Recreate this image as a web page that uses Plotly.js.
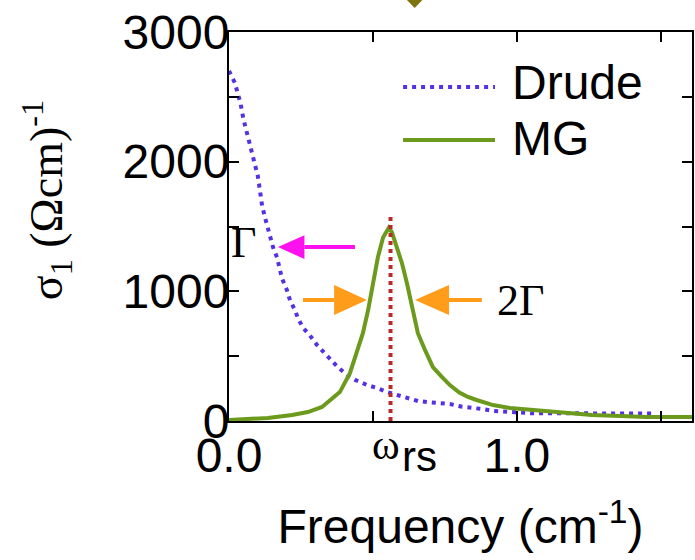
<!DOCTYPE html>
<html>
<head>
<meta charset="utf-8">
<script src="https://cdn.plot.ly/plotly-3.0.1.min.js"></script>
<style>html,body{margin:0;padding:0;background:#fff;}</style>
</head>
<body>
<div id="chart" style="width:695px;height:560px;"></div>
<script>
// Drude curve
const drudeX = [0.0, 0.02, 0.03, 0.04, 0.05, 0.063, 0.073, 0.083, 0.094, 0.10, 0.105, 0.115, 0.125, 0.135, 0.146, 0.153, 0.167, 0.177, 0.184, 0.201, 0.212, 0.229, 0.24, 0.257, 0.281, 0.306, 0.333, 0.358, 0.378, 0.41, 0.44, 0.48, 0.515, 0.55, 0.583, 0.618, 0.656, 0.69, 0.733, 0.767, 0.81, 0.84, 0.88, 0.92, 1.0, 1.05, 1.4, 1.47];
const drudeY = [2700, 2610, 2530, 2450, 2330, 2220, 2140, 2060, 1970, 1890, 1815, 1660, 1570, 1490, 1410, 1340, 1260, 1180, 1100, 1010, 930, 855, 790, 720, 660, 585, 520, 470, 415, 355, 315, 277, 254, 223, 200, 177, 154, 146, 138, 131, 110, 105, 92, 77, 62, 60, 58, 58];

// MG curve
const mgX = [0.0, 0.135, 0.219, 0.274, 0.323, 0.358, 0.385, 0.42, 0.444, 0.465, 0.483, 0.5, 0.517, 0.535, 0.555, 0.566, 0.583, 0.601, 0.618, 0.635, 0.656, 0.681, 0.708, 0.74, 0.767, 0.80, 0.83, 0.86, 0.917, 0.976, 1.056, 1.14, 1.26, 1.36, 1.45, 1.61];
const mgY = [8, 23, 46, 69, 108, 177, 223, 369, 523, 677, 854, 1062, 1262, 1415, 1490, 1454, 1338, 1215, 1062, 877, 677, 546, 415, 338, 277, 220, 185, 162, 123, 100, 85, 62, 46, 38, 31, 31];

// Resonance marker
const wrsX = [0.561, 0.561];
const wrsY = [0, 1585];

// Tick spacing
const xMajor = 1.0, xMinor = 0.5;
const yMajor = 1000, yMinor = 500;

const seriesNames = ['Drude', 'MG'];
const drudeColor = '#5530e6';
const mgColor = '#6b9a1c';
const magenta = '#ff10ee';
const orange = '#ff9c1a';

const traces = [
  {x: drudeX, y: drudeY, mode: 'lines', name: seriesNames[0],
   line: {color: drudeColor, width: 4, dash: '4px,5px'}, showlegend: false},
  {x: mgX, y: mgY, mode: 'lines', name: seriesNames[1],
   line: {color: mgColor, width: 4}, showlegend: false},
  {x: wrsX, y: wrsY, mode: 'lines', name: 'ωrs',
   line: {color: '#b82a28', width: 4, dash: '4px,4px'}, showlegend: false}
];

const sans = 'Liberation Sans, Arial, sans-serif';
const serif = 'Liberation Serif, Times New Roman, serif';

// arrow helper: line from tail to head base plus a filled triangular head (data coords)
function arrow(tail, tip, base, y, half, color) {
  return [
    {type: 'line', xref: 'x', yref: 'y', x0: tail, x1: base, y0: y, y1: y,
     line: {color: color, width: 4}},
    {type: 'path', xref: 'x', yref: 'y',
     path: `M ${tip} ${y} L ${base} ${y + half} L ${base} ${y - half} Z`,
     fillcolor: color, line: {width: 0}}
  ];
}

const layout = {
  width: 695, height: 560,
  margin: {l: 229, r: 3, t: 32, b: 139},
  paper_bgcolor: '#ffffff', plot_bgcolor: '#ffffff',
  showlegend: false,
  xaxis: {
    range: [0, 1.608], showgrid: false, zeroline: false,
    showline: true, linecolor: '#000', linewidth: 2, mirror: 'ticks',
    ticks: 'inside', ticklen: 10, tickwidth: 2, tickcolor: '#000',
    tick0: 0, dtick: xMajor, tickformat: '.1f',
    minor: {dtick: xMinor, ticks: 'inside', ticklen: 10, tickwidth: 2, tickcolor: '#000'},
    tickfont: {family: sans, size: 48, color: '#000'},
    ticklabelstandoff: -9,
    title: {text: 'Frequency (cm<sup>-1</sup>)', font: {family: sans, size: 48, color: '#000'}, standoff: 29}
  },
  yaxis: {
    range: [0, 3000], showgrid: false, zeroline: false,
    showline: true, linecolor: '#000', linewidth: 2, mirror: 'ticks',
    ticks: 'inside', ticklen: 10, tickwidth: 2, tickcolor: '#000',
    tick0: 0, dtick: yMajor,
    minor: {dtick: yMinor, ticks: 'inside', ticklen: 10, tickwidth: 2, tickcolor: '#000'},
    tickfont: {family: sans, size: 48, color: '#000'},
    ticklabelstandoff: -12
  },
  shapes: [
    // legend samples
    {type: 'line', xref: 'paper', yref: 'paper', x0: 0.376, x1: 0.5745, y0: 0.8586, y1: 0.8586,
     line: {color: drudeColor, width: 4, dash: '4px,5px'}},
    {type: 'line', xref: 'paper', yref: 'paper', x0: 0.376, x1: 0.5745, y0: 0.7224, y1: 0.7224,
     line: {color: mgColor, width: 4}},
    // partially visible olive marker at top
    {type: 'path', xref: 'paper', yref: 'paper',
     path: 'M 0.382 1.085 L 0.420 1.085 L 0.401 1.062 Z',
     fillcolor: '#7d7410', line: {width: 0}},
    // annotation arrows
    ...arrow(0.4375, 0.17, 0.262, 1341, 92, magenta),
    ...arrow(0.257, 0.479, 0.365, 933, 116, orange),
    ...arrow(0.878, 0.646, 0.764, 933, 116, orange)
  ],
  annotations: [
    // y-axis title
    {xref: 'paper', yref: 'paper', x: -0.395, y: 0.568, textangle: -90,
     xanchor: 'center', yanchor: 'middle', showarrow: false,
     text: 'σ<sub>1</sub> (Ωcm)<sup>-1</sup>', font: {family: serif, size: 46, color: '#000'}},
    {xref: 'paper', yref: 'paper', x: 0.607, y: 0.869, xanchor: 'left', yanchor: 'middle',
     text: 'Drude', showarrow: false, font: {family: sans, size: 48, color: '#000'}},
    {xref: 'paper', yref: 'paper', x: 0.607, y: 0.7275, xanchor: 'left', yanchor: 'middle',
     text: 'MG', showarrow: false, font: {family: sans, size: 48, color: '#000'}},
    {xref: 'x', yref: 'y', x: 0.049, y: 1380, text: 'Γ', showarrow: false,
     font: {family: serif, size: 44, color: '#000'}},
    {xref: 'x', yref: 'y', x: 1.014, y: 933, text: '2Γ', showarrow: false,
     font: {family: serif, size: 44, color: '#000'}},
    // omega_rs label
    {xref: 'x', yref: 'paper', x: 0.545, y: -0.062, text: 'ω', showarrow: false,
     xanchor: 'center', yanchor: 'middle', font: {family: serif, size: 42, color: '#000'}},
    {xref: 'x', yref: 'paper', x: 0.661, y: -0.09, text: 'rs', showarrow: false,
     xanchor: 'center', yanchor: 'middle', font: {family: sans, size: 42, color: '#000'}}
  ]
};

Plotly.newPlot('chart', traces, layout, {displayModeBar: false, staticPlot: true});
</script>
</body>
</html>
